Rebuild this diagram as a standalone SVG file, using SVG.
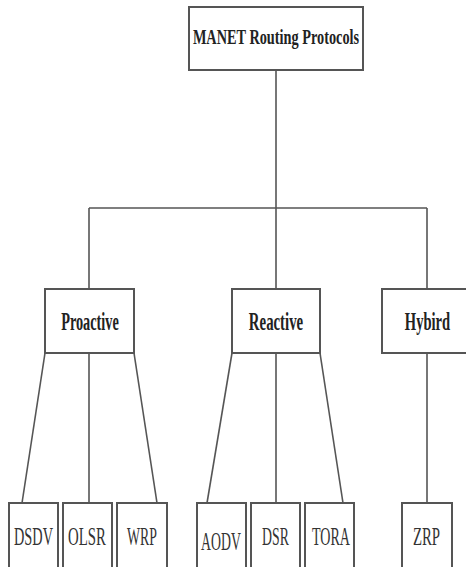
<svg xmlns="http://www.w3.org/2000/svg" width="466" height="567" viewBox="0 0 466 567">
<style>
.box{fill:#fff;stroke:#555;stroke-width:2}
.ln{stroke:#555;stroke-width:1.6;fill:none}
.b{font-family:"Liberation Serif",serif;font-weight:bold;fill:#222;text-anchor:middle}
.n{font-family:"Liberation Serif",serif;fill:#333;text-anchor:middle;font-size:26px}
</style>
<rect width="466" height="567" fill="#fff"/>
<g id="connectors">
<line class="ln" x1="276" y1="70" x2="276" y2="289"/>
<line class="ln" x1="89" y1="208" x2="427" y2="208"/>
<line class="ln" x1="89" y1="208" x2="89" y2="289"/>
<line class="ln" x1="427" y1="208" x2="427" y2="289"/>
<line class="ln" x1="45" y1="353" x2="22" y2="503"/>
<line class="ln" x1="89" y1="353" x2="89" y2="503"/>
<line class="ln" x1="134" y1="353" x2="157" y2="503"/>
<line class="ln" x1="232" y1="353" x2="207" y2="503"/>
<line class="ln" x1="276" y1="353" x2="276" y2="503"/>
<line class="ln" x1="320" y1="353" x2="343" y2="503"/>
<line class="ln" x1="427" y1="353" x2="427" y2="503"/>
</g>
<g id="root"><rect class="box" x="189" y="7" width="174" height="63"/><text class="b" font-size="22" transform="translate(276,44) scale(0.65,1)">MANET Routing Protocols</text></g>
<g id="proactive"><rect class="box" x="45" y="289" width="89" height="64"/><text class="b" font-size="26" transform="translate(90,330) scale(0.55,1)">Proactive</text></g>
<g id="reactive"><rect class="box" x="232" y="289" width="88" height="64"/><text class="b" font-size="26" transform="translate(276,330) scale(0.57,1)">Reactive</text></g>
<g id="hybird"><rect class="box" x="382" y="289" width="90" height="64"/><text class="b" font-size="26" transform="translate(427.5,330) scale(0.56,1)">Hybird</text></g>
<g id="dsdv"><rect class="box" x="9" y="503" width="49" height="70"/><text class="n" transform="translate(33.5,545) scale(0.55,1)">DSDV</text></g>
<g id="olsr"><rect class="box" x="63" y="503" width="49" height="70"/><text class="n" transform="translate(87,545) scale(0.57,1)">OLSR</text></g>
<g id="wrp"><rect class="box" x="117" y="503" width="50" height="70"/><text class="n" transform="translate(142,545) scale(0.53,1)">WRP</text></g>
<g id="aodv"><rect class="box" x="197" y="503" width="49" height="70"/><text class="n" transform="translate(221,550) scale(0.53,1)">AODV</text></g>
<g id="dsr"><rect class="box" x="251" y="503" width="49" height="70"/><text class="n" transform="translate(275.5,545) scale(0.53,1)">DSR</text></g>
<g id="tora"><rect class="box" x="305" y="503" width="49" height="70"/><text class="n" transform="translate(331,545) scale(0.54,1)">TORA</text></g>
<g id="zrp"><rect class="box" x="402" y="503" width="50" height="70"/><text class="n" transform="translate(426.5,545) scale(0.57,1)">ZRP</text></g>
</svg>
